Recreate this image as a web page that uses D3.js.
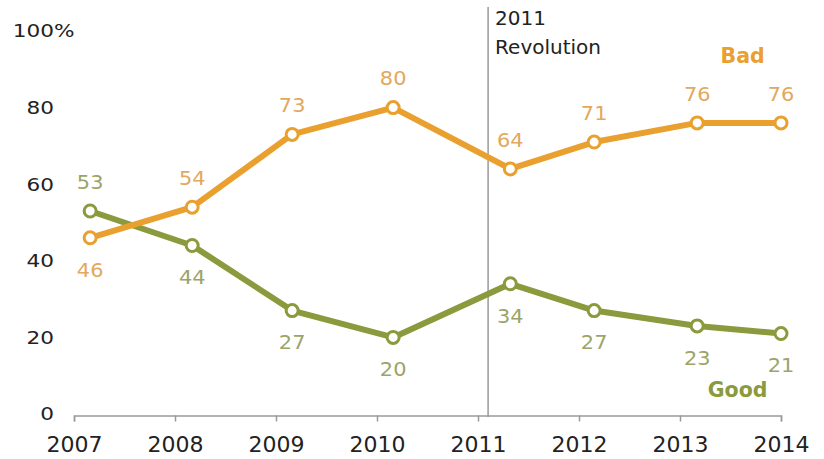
<!DOCTYPE html>
<html>
<head>
<meta charset="utf-8">
<script src="https://cdn.jsdelivr.net/npm/d3@7"></script>
<style>
  html, body { margin: 0; padding: 0; background: #fff; }
  svg { display: block; }
  text { font-family: "DejaVu Sans", Verdana, sans-serif; }
</style>
</head>
<body>
<svg id="chart" width="824" height="459"></svg>
<script>
// Survey dates (fractional years) and shares rating conditions good / bad
const surveyDates = [2007.16, 2008.17, 2009.16, 2010.16, 2011.32, 2012.15, 2013.17, 2014.0];
const badValues  = [46, 54, 73, 80, 64, 71, 76, 76];
const goodValues = [53, 44, 27, 20, 34, 27, 23, 21];
const yearTicks  = [2007, 2008, 2009, 2010, 2011, 2012, 2013, 2014];
const valueTicks = [0, 20, 40, 60, 80, 100];
const revolutionDate = 2011.1;
const revolutionLabel = ["2011", "Revolution"];

const colors = {
  bad: "#e9a02f", badText: "#e2a85e",
  good: "#8a9a3c", goodText: "#9ca469",
  axis: "#9a9a9a", text: "#222"
};

const svg = d3.select("#chart");
const x = d3.scaleLinear().domain([2007, 2014]).range([74, 781]);
const y = d3.scaleLinear().domain([0, 100]).range([414, 31]);

// text drawn with a slight horizontal widening
function wideText(parent, px, py, str, size, sx, anchor, fill, extra) {
  const t = parent.append("text")
    .attr("transform", `translate(${px},${py}) scale(${sx},1)`)
    .attr("dy", "0.36em").attr("text-anchor", anchor)
    .attr("font-size", size).attr("fill", fill).text(str);
  if (extra) extra(t);
  return t;
}

// x axis
const xAxis = d3.axisBottom(x).tickValues(yearTicks).tickFormat(d3.format("d"))
  .tickSize(6).tickPadding(15);
const gx = svg.append("g").attr("transform", `translate(0,${y(0) + 1.5})`).call(xAxis);
gx.select(".domain").attr("stroke", colors.axis).attr("stroke-width", 1.5);
gx.selectAll(".tick line").attr("stroke", colors.axis).attr("stroke-width", 1.5);
gx.selectAll(".tick text").attr("font-size", 22).attr("fill", colors.text)
  .attr("font-family", "DejaVu Sans, sans-serif");

// y tick labels (no axis line)
const gy = svg.append("g");
valueTicks.forEach(v => {
  wideText(gy, 54, y(v), v, 18, 1.2, "end", colors.text);
  if (v === 100) wideText(gy, 54, y(v), "%", 18, 1.2, "start", colors.text);
});

// revolution marker
svg.append("line")
  .attr("x1", x(revolutionDate)).attr("x2", x(revolutionDate))
  .attr("y1", 7).attr("y2", y(0) + 3)
  .attr("stroke", colors.axis).attr("stroke-width", 1.5);
svg.append("text").attr("y", 25)
  .attr("font-size", 20).attr("fill", colors.text)
  .selectAll("tspan").data(revolutionLabel).join("tspan")
  .attr("x", x(revolutionDate) + 7).attr("dy", (d, i) => i === 0 ? 0 : 29)
  .text(d => d);

const line = d3.line().x(d => x(d[0])).y(d => y(d[1]));

function drawSeries(values, other, stroke, textColor) {
  const pts = surveyDates.map((d, i) => [d, values[i]]);
  svg.append("path").datum(pts).attr("d", line)
    .attr("fill", "none").attr("stroke", stroke).attr("stroke-width", 6)
    .attr("stroke-linejoin", "round");
  svg.append("g").selectAll("circle").data(pts).join("circle")
    .attr("cx", d => x(d[0])).attr("cy", d => y(d[1])).attr("r", 6)
    .attr("fill", "#fff").attr("stroke", stroke).attr("stroke-width", 3);
  const g = svg.append("g");
  pts.forEach((d, i) => {
    const ly = d[1] >= other[i] ? y(d[1]) - 29 : y(d[1]) + 32;
    wideText(g, x(d[0]), ly, d[1], 19, 1.1, "middle", textColor);
  });
}

drawSeries(goodValues, badValues, colors.good, colors.goodText);
drawSeries(badValues, goodValues, colors.bad, colors.badText);

// series names
svg.append("text").attr("x", x(2013.62)).attr("y", y(93.5)).attr("dy", "0.36em")
  .attr("text-anchor", "middle").attr("font-family", "Liberation Sans, Arial, sans-serif")
  .attr("font-weight", "bold").attr("font-size", 20.5).attr("fill", colors.bad).text("Bad");
svg.append("text").attr("x", x(2013.57)).attr("y", y(6.3)).attr("dy", "0.36em")
  .attr("text-anchor", "middle").attr("font-family", "Liberation Sans, Arial, sans-serif")
  .attr("font-weight", "bold").attr("font-size", 20.5).attr("fill", colors.good).text("Good");
</script>
</body>
</html>
